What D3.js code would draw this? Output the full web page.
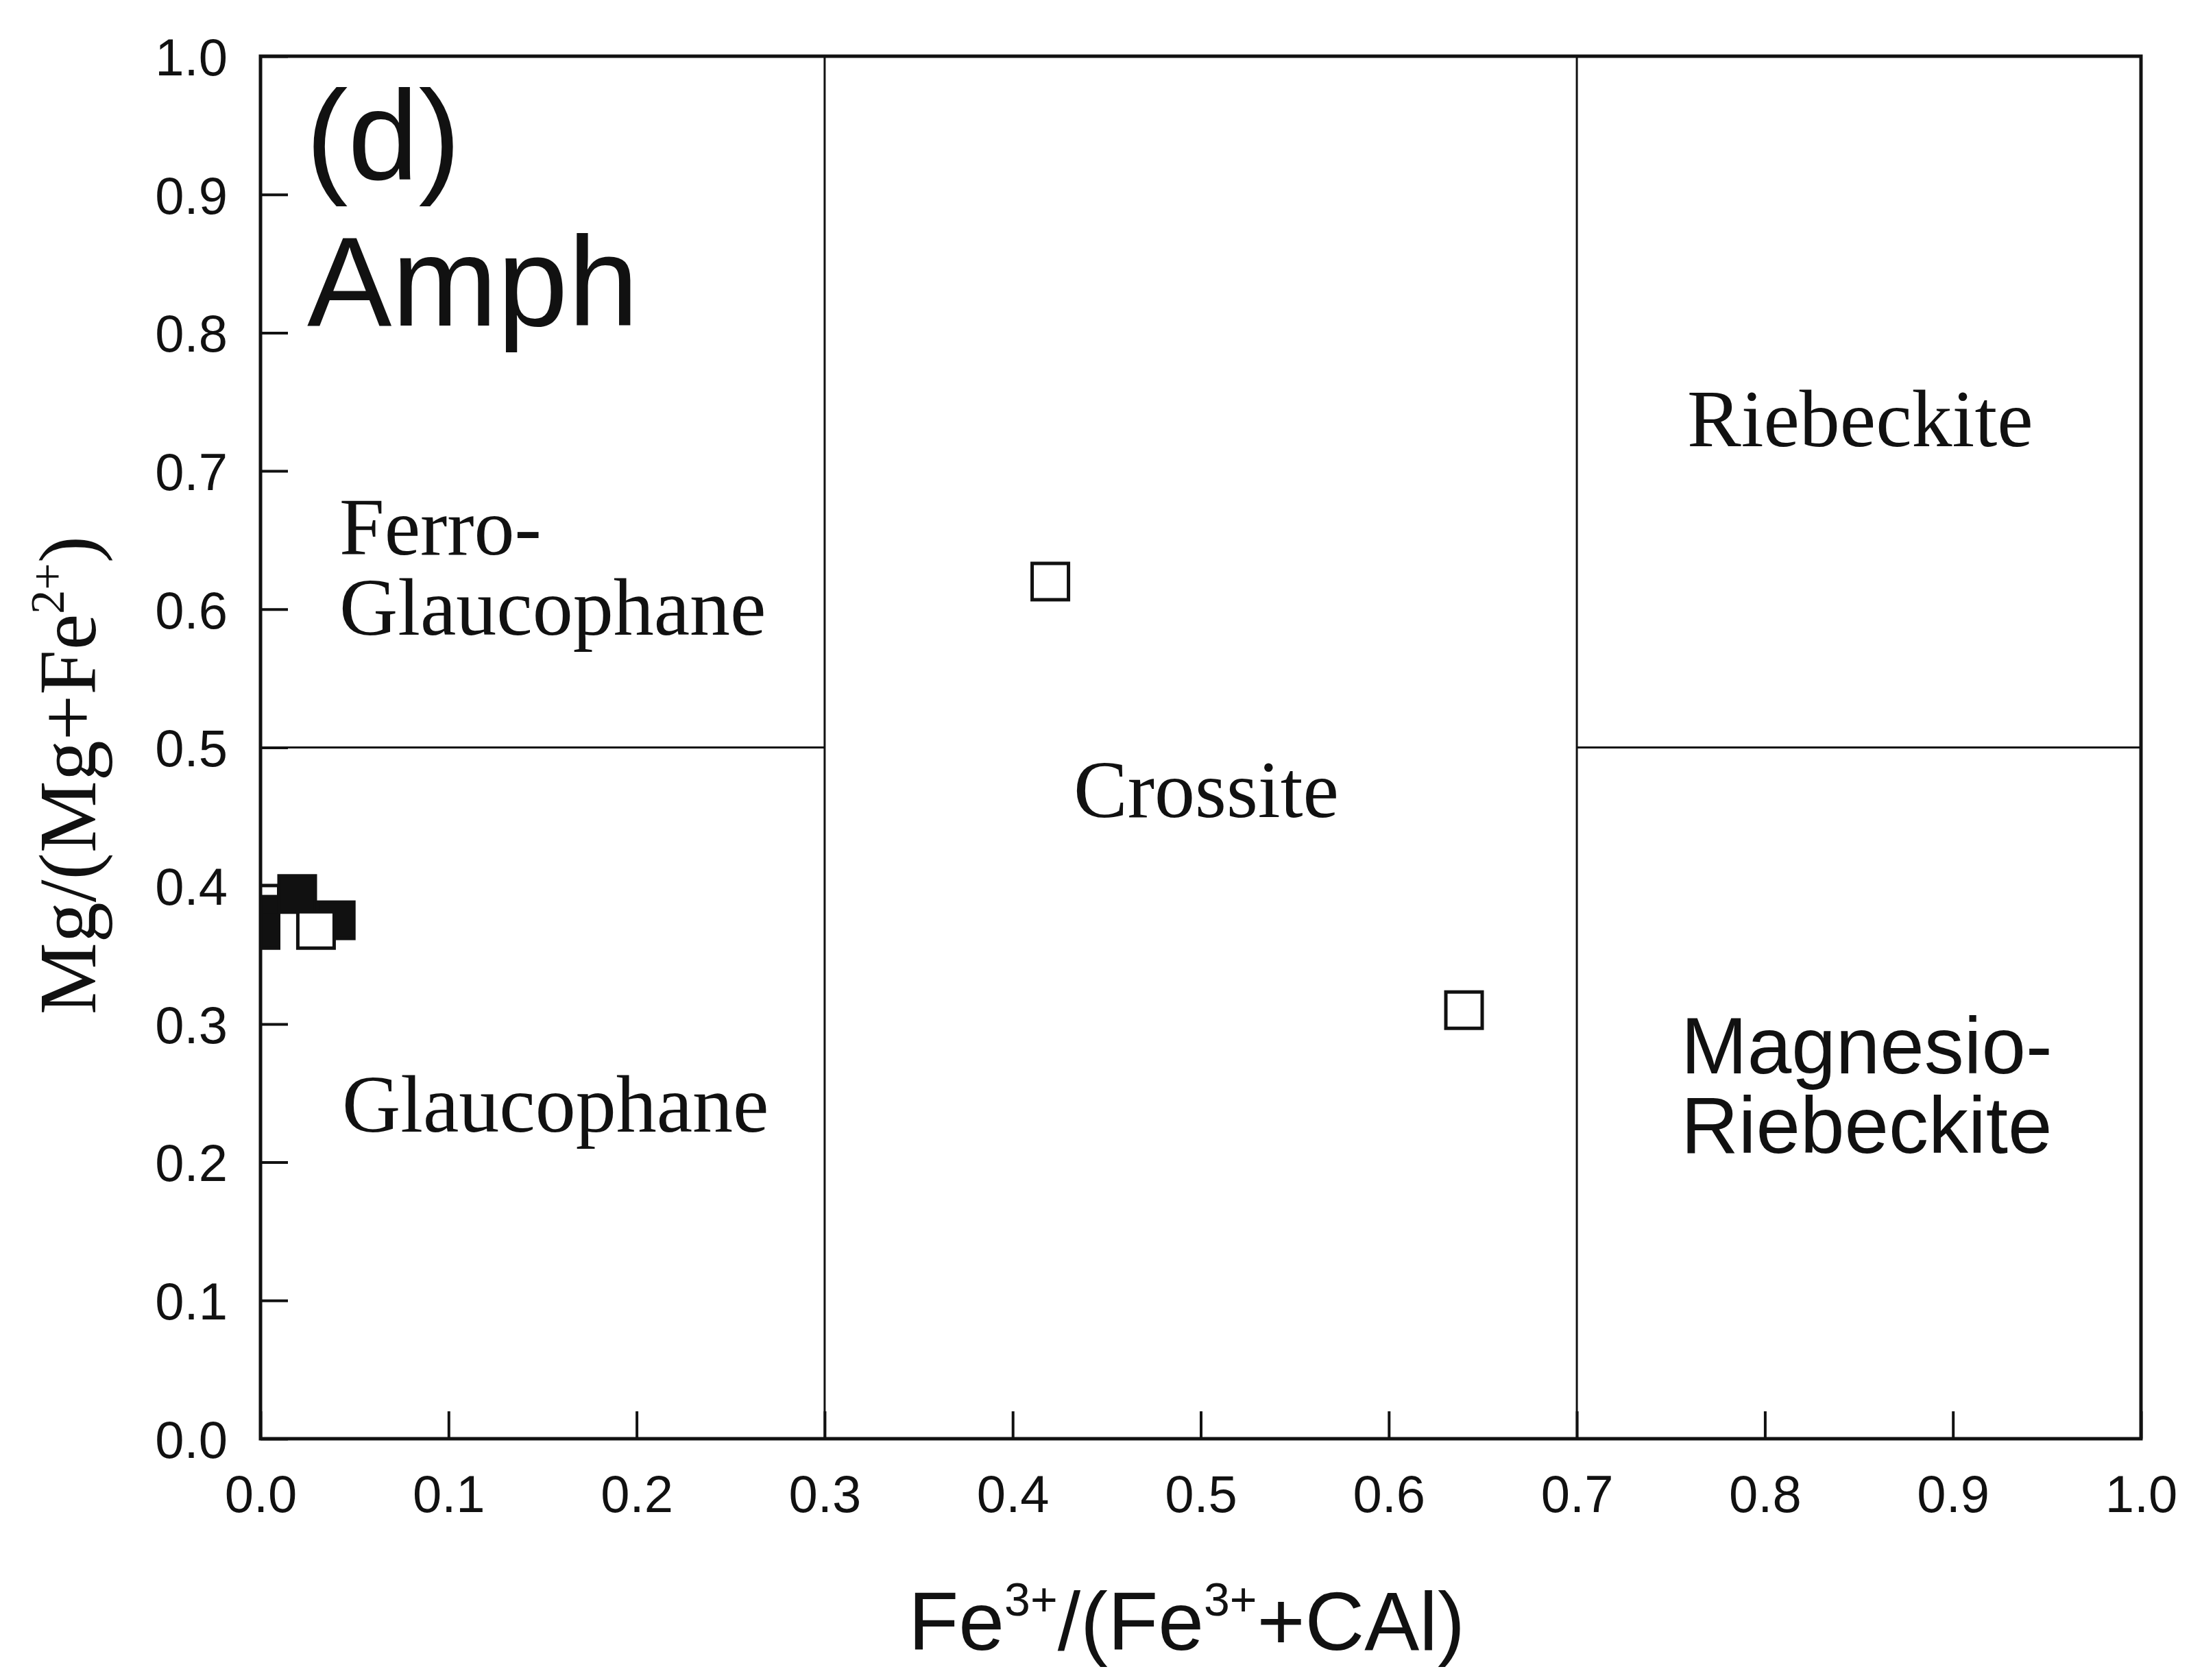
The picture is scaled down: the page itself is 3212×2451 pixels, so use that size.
<!DOCTYPE html>
<html>
<head>
<meta charset="utf-8">
<script src="https://cdn.jsdelivr.net/npm/d3@7"></script>
<style>
  html, body { margin: 0; padding: 0; background: #fff; }
  svg { display: block; }
</style>
</head>
<body>
<svg id="chart" width="3212" height="2451"></svg>
<script>
// ---- data ----
const xTicks = [0.0, 0.1, 0.2, 0.3, 0.4, 0.5, 0.6, 0.7, 0.8, 0.9, 1.0];
const yTicks = [0.0, 0.1, 0.2, 0.3, 0.4, 0.5, 0.6, 0.7, 0.8, 0.9, 1.0];
// points in draw order
const pointX      = [0.000, 0.000, 0.000, 0.0195, 0.040, 0.0295, 0.420, 0.640];
const pointY      = [0.387, 0.379, 0.368, 0.394, 0.375, 0.368, 0.620, 0.310];
const pointFilled = [false, true,  true,  true,   true,  false,  false, false];
// field boundaries [x1, y1, x2, y2]
const boundaries = [
  [0.3, 0.0, 0.3, 1.0],
  [0.7, 0.0, 0.7, 1.0],
  [0.0, 0.5, 0.3, 0.5],
  [0.7, 0.5, 1.0, 0.5]
];
const fieldNames = ["Ferro-", "Glaucophane", "Glaucophane", "Crossite", "Riebeckite"];
const fieldNamesSans = ["Magnesio-", "Riebeckite"];
const panelLabels = ["(d)", "Amph"];

// ---- layout ----
const svg = d3.select("#chart");
const L = 380, R = 3123, T = 82, B = 2099;
const x = d3.scaleLinear().domain([0, 1]).range([L, R]);
const y = d3.scaleLinear().domain([0, 1]).range([B, T]);
const SANS = "'Liberation Sans', Arial, sans-serif";
const SERIF = "'Liberation Serif', 'Times New Roman', serif";

svg.append("rect").attr("width", 3212).attr("height", 2451).attr("fill", "#fff");

// clip
svg.append("defs").append("clipPath").attr("id", "plotclip")
  .append("rect").attr("x", L).attr("y", T).attr("width", R - L).attr("height", B - T);

// axes
const xAxis = d3.axisBottom(x).tickValues(xTicks).tickFormat(d3.format(".1f"))
  .tickSizeInner(-40).tickSizeOuter(0).tickPadding(0);
const gx = svg.append("g").attr("transform", `translate(0,${B})`).call(xAxis);
gx.select(".domain").remove();
gx.selectAll(".tick line").attr("stroke", "#111").attr("stroke-width", 4);
gx.selectAll(".tick text").attr("y", 107).attr("dy", null)
  .attr("font-family", SANS).attr("font-size", 76).attr("fill", "#111");

const yAxis = d3.axisLeft(y).tickValues(yTicks).tickFormat(d3.format(".1f"))
  .tickSizeInner(-40).tickSizeOuter(0).tickPadding(0);
const gy = svg.append("g").attr("transform", `translate(${L},0)`).call(yAxis);
gy.select(".domain").remove();
gy.selectAll(".tick line").attr("stroke", "#111").attr("stroke-width", 4);
gy.selectAll(".tick text").attr("x", -48).attr("dy", "0.36em")
  .attr("font-family", SANS).attr("font-size", 76).attr("fill", "#111");

// field boundaries
svg.append("g").selectAll("line").data(boundaries).join("line")
  .attr("x1", d => x(d[0])).attr("y1", d => y(d[1]))
  .attr("x2", d => x(d[2])).attr("y2", d => y(d[3]))
  .attr("stroke", "#111").attr("stroke-width", 3);

// points
const S = 53;
const pts = pointX.map((v, i) => ({ x: v, y: pointY[i], f: pointFilled[i] }));
svg.append("g").attr("clip-path", "url(#plotclip)").selectAll("rect").data(pts).join("rect")
  .attr("x", d => x(d.x) - S / 2).attr("y", d => y(d.y) - S / 2)
  .attr("width", S).attr("height", S)
  .attr("fill", d => d.f ? "#111" : "#fff")
  .attr("stroke", "#111").attr("stroke-width", 5);

// frame
svg.append("rect").attr("x", L).attr("y", T).attr("width", R - L).attr("height", B - T)
  .attr("fill", "none").attr("stroke", "#111").attr("stroke-width", 5);

// panel labels
svg.append("text").attr("x", 446).attr("y", 262).attr("font-family", SANS)
  .attr("font-size", 185).attr("fill", "#111").text(panelLabels[0]);
svg.append("text").attr("x", 448).attr("y", 475).attr("font-family", SANS)
  .attr("font-size", 185).attr("fill", "#111").text(panelLabels[1]);

// field names (serif)
const serifPos = [[495, 809], [495, 926], [499, 1651], [1566, 1192], [2461, 651]];
svg.append("g").selectAll("text").data(fieldNames).join("text")
  .attr("x", (d, i) => serifPos[i][0]).attr("y", (d, i) => serifPos[i][1])
  .attr("font-family", SERIF).attr("font-size", 118).attr("fill", "#111")
  .text(d => d);
const sansPos = [[2452, 1566], [2452, 1682]];
svg.append("g").selectAll("text").data(fieldNamesSans).join("text")
  .attr("x", (d, i) => sansPos[i][0]).attr("y", (d, i) => sansPos[i][1])
  .attr("font-family", SANS).attr("font-size", 116).attr("fill", "#111")
  .text(d => d);

// x axis title
const xt = svg.append("text").attr("x", 1731).attr("y", 2407).attr("text-anchor", "middle")
  .attr("font-family", SANS).attr("font-size", 120).attr("fill", "#111");
xt.append("tspan").text("Fe");
xt.append("tspan").attr("font-size", 68).attr("dy", -50).text("3+");
xt.append("tspan").attr("dy", 50).text("/(Fe");
xt.append("tspan").attr("font-size", 68).attr("dy", -50).text("3+");
xt.append("tspan").attr("dy", 50).text("+CAl)");

// y axis title
const yt = svg.append("text").attr("transform", `translate(139,1131) rotate(-90)`)
  .attr("text-anchor", "middle").attr("font-family", SERIF).attr("font-size", 118).attr("fill", "#111");
yt.append("tspan").text("Mg/(Mg+Fe");
yt.append("tspan").attr("font-size", 70).attr("dy", -46).text("2+");
yt.append("tspan").attr("dy", 46).text(")");
</script>
</body>
</html>
